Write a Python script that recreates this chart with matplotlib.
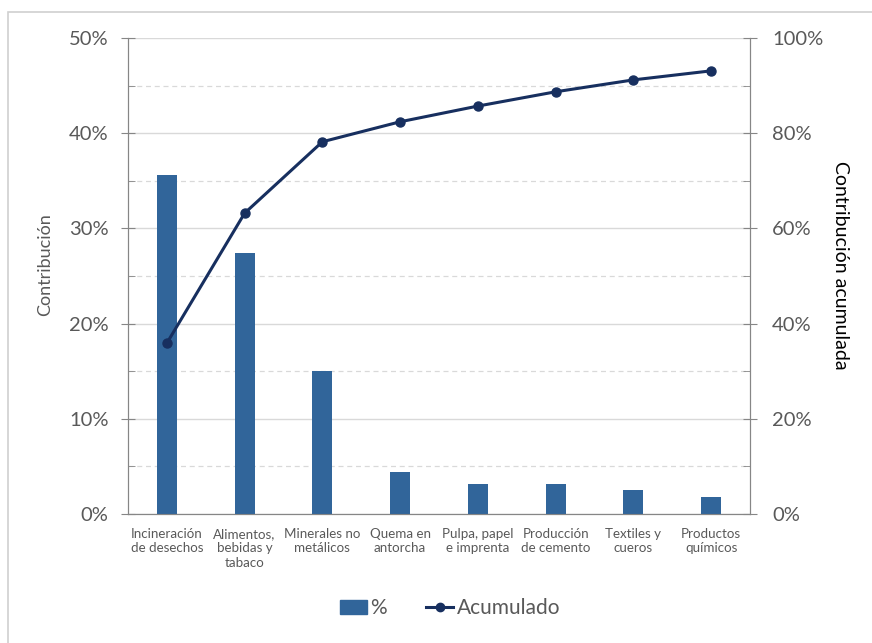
import numpy as np
import matplotlib.pyplot as plt
from matplotlib.patches import Rectangle
from matplotlib.lines import Line2D
from matplotlib.ticker import MultipleLocator, PercentFormatter

plt.rcParams['font.family'] = ['Lato', 'DejaVu Sans']

# Data
categorias = ['Incineración\nde desechos', 'Alimentos,\nbebidas y\ntabaco',
              'Minerales no\nmetálicos', 'Quema en\nantorcha',
              'Pulpa, papel\ne imprenta', 'Producción\nde cemento',
              'Textiles y\ncueros', 'Productos\nquímicos']
contribucion = [35.6, 27.4, 15.0, 4.4, 3.15, 3.15, 2.5, 1.8]
acumulado = [35.9, 63.2, 78.2, 82.4, 85.7, 88.7, 91.2, 93.1]

bar_color = '#31659a'
line_color = '#172f5f'
txt_gray = '#595959'
axis_gray = '#868686'
grid_gray = '#d9d9d9'

fig = plt.figure(figsize=(8.72, 6.43), dpi=100)
ax1 = fig.add_axes([128/872, 1 - 514/643, 622/872, 476/643])
ax2 = ax1.twinx()

# light frame around the chart area (right/bottom cut off)
fig.patches.append(Rectangle((8/872, -0.1), 1.2, 1 - 12/643 + 0.1,
                             transform=fig.transFigure, fill=False,
                             edgecolor='#d0d0d0', linewidth=1.2))

x = np.arange(len(categorias))
ax1.bar(x, contribucion, width=0.26, color=bar_color, zorder=3)
ax1.set_xlim(-0.5, len(categorias) - 0.5)
ax1.set_ylim(0, 50)
ax1.yaxis.set_major_locator(MultipleLocator(10))
ax1.yaxis.set_minor_locator(MultipleLocator(5))
ax1.yaxis.set_major_formatter(PercentFormatter(decimals=0))
ax1.set_xticks(x)
ax1.set_xticklabels(categorias, fontsize=9.6, color=txt_gray, linespacing=1.25)
ax1.tick_params(axis='x', length=0, pad=10)
ax1.tick_params(axis='y', which='major', direction='inout', length=10,
                color=axis_gray, labelsize=14.5, labelcolor=txt_gray, pad=9)
ax1.tick_params(axis='y', which='minor', direction='in', length=5,
                color=axis_gray)
ax1.grid(axis='y', which='major', color=grid_gray, linewidth=1, zorder=0)
ax1.grid(axis='y', which='minor', color=grid_gray, linewidth=0.9,
         linestyle=(0, (4, 3)), zorder=0)
ax1.set_ylabel('Contribución', fontsize=13, color=txt_gray, va='center')
ax1.yaxis.set_label_coords(-83/622, 0.523)

ax2.plot(x, acumulado, color=line_color, linewidth=2.2, marker='o',
         markersize=6.5, zorder=4)
ax2.set_ylim(0, 100)
ax2.yaxis.set_major_locator(MultipleLocator(20))
ax2.yaxis.set_minor_locator(MultipleLocator(10))
ax2.yaxis.set_major_formatter(PercentFormatter(decimals=0))
ax2.tick_params(axis='y', which='major', direction='inout', length=10,
                color=axis_gray, labelsize=14.5, labelcolor=txt_gray, pad=11)
ax2.tick_params(axis='y', which='minor', direction='in', length=5,
                color=axis_gray)
ax2.set_ylabel('Contribución acumulada', fontsize=14, color='black',
               rotation=-90, va='center')
ax2.yaxis.set_label_coords(1 + 90/622, 0.523)

for ax in (ax1, ax2):
    ax.spines['top'].set_visible(False)
    for s in ('left', 'right', 'bottom'):
        ax.spines[s].set_color(axis_gray)

handles = [Rectangle((0, 0), 1, 1, color=bar_color),
           Line2D([], [], color=line_color, linewidth=2.2, marker='o',
                  markersize=6)]
fig.legend(handles, ['%', 'Acumulado'], loc='center',
           bbox_to_anchor=(0.516, 0.054), ncol=2, frameon=False,
           fontsize=15, handlelength=1.3, handletextpad=0.15,
           columnspacing=1.9, labelcolor=txt_gray)

fig.savefig('out.png', dpi=100)
